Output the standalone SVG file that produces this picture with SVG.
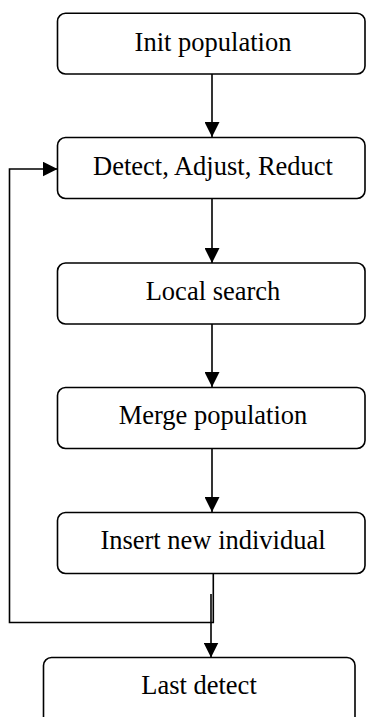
<svg xmlns="http://www.w3.org/2000/svg" width="367" height="717" viewBox="0 0 367 717">
<defs>
<marker id="ah" markerWidth="15" markerHeight="15" refX="15" refY="7.5" orient="auto" markerUnits="userSpaceOnUse">
<path d="M0,0 L15,7.5 L0,15 Z" fill="#000"/>
</marker>
<style>
.box{fill:#fff;stroke:#000;stroke-width:1.6}
.lbl{font-family:"Liberation Serif","Times New Roman",serif;font-size:26.5px;fill:#000;text-anchor:middle}
.c{fill:none;stroke:#000;stroke-width:1.6}
</style>
</defs>
<rect width="367" height="717" fill="#fff"/>
<g id="connectors">
<path class="c" d="M212,74 V137" marker-end="url(#ah)"/>
<path class="c" d="M212,199 V263" marker-end="url(#ah)"/>
<path class="c" d="M212,324 V387" marker-end="url(#ah)"/>
<path class="c" d="M212,449 V512" marker-end="url(#ah)"/>
<path class="c" d="M213.3,574 V622.5 H9.5 V169 H57.5" marker-end="url(#ah)"/>
<path class="c" d="M211,594 V657.5" marker-end="url(#ah)"/>
</g>
<g id="n1"><rect class="box" x="57.5" y="13.3" width="307.5" height="60.7" rx="8"/><text class="lbl" x="213" y="51">Init population</text></g>
<g id="n2"><rect class="box" x="57.5" y="137.5" width="307.5" height="61" rx="8"/><text class="lbl" x="213" y="175">Detect, Adjust, Reduct</text></g>
<g id="n3"><rect class="box" x="57.5" y="263" width="307.5" height="61" rx="8"/><text class="lbl" x="213" y="300">Local search</text></g>
<g id="n4"><rect class="box" x="57.5" y="387.5" width="307.5" height="61" rx="8"/><text class="lbl" x="213" y="424">Merge population</text></g>
<g id="n5"><rect class="box" x="57.5" y="512.5" width="307.5" height="61" rx="8"/><text class="lbl" x="213" y="549">Insert new individual</text></g>
<g id="n6"><rect class="box" x="43.5" y="657.5" width="311.5" height="70" rx="8"/><text class="lbl" x="199" y="694">Last detect</text></g>
</svg>
